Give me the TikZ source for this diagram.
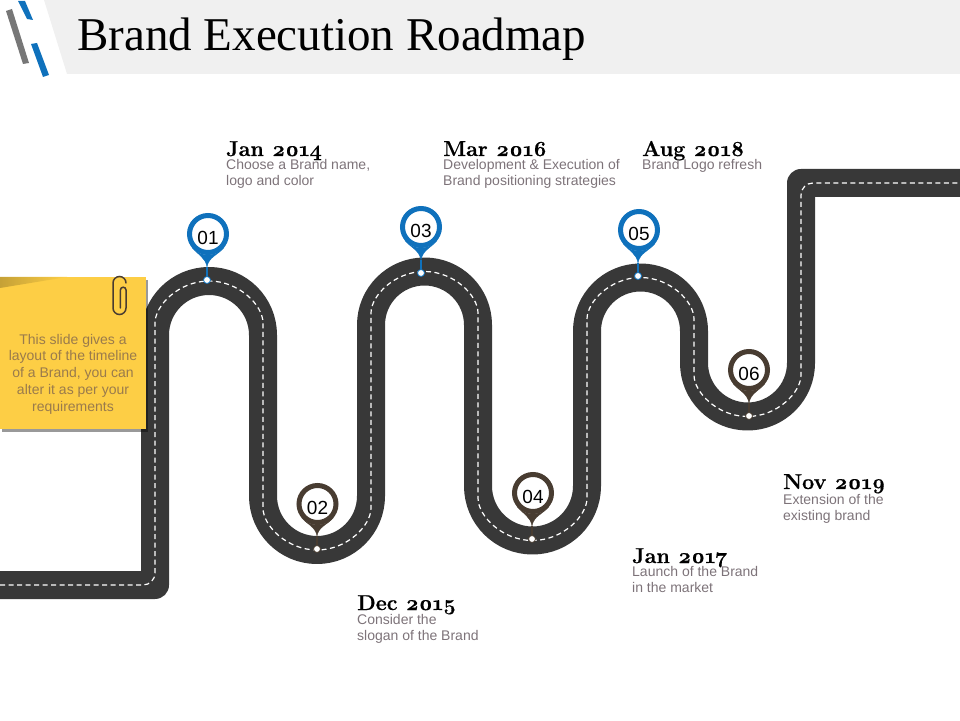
\documentclass[tikz,border=0pt]{standalone}
\usepackage{fontspec}
\setsansfont{Liberation Sans}
\newfontfamily\titlefont{Liberation Serif}
\newfontfamily\datefont{Latin Modern Roman}[Numbers=OldStyle,BoldFeatures={FakeBold=0.6}]
\usetikzlibrary{shadows}

\definecolor{roadgray}{HTML}{383838}
\definecolor{pinblue}{HTML}{0F71BC}
\definecolor{pinbrown}{HTML}{483C31}
\definecolor{notegold}{HTML}{FDCE45}
\definecolor{notetext}{HTML}{9A7B4C}
\definecolor{desctext}{HTML}{7D7379}
\definecolor{headgray}{HTML}{F0F0F0}
\definecolor{stripegray}{HTML}{777777}

\newcommand{\roadpath}{(0,135) -- (155,135) -- (155,385) arc (180:0:54) -- (263,224) arc (180:360:54) -- (371,395) arc (180:0:53.5) -- (478,234) arc (180:360:54.5) -- (587,389) arc (180:0:53.5) -- (694,357) arc (180:360:53.5) -- (801,537) -- (960,537)}

\tikzset{
  pin/.style={circle,draw=#1,line width=5pt,fill=white,minimum size=37pt,inner sep=0pt,text height=21pt,text depth=0pt,font=\sffamily\fontsize{19}{19}\selectfont},
  dot/.style={circle,draw=#1,line width=0.8pt,fill=white,minimum size=7pt,inner sep=0pt},
  datelabel/.style={anchor=base west,inner sep=0pt,font=\datefont\bfseries\fontsize{21.5}{22}\selectfont},
  desclabel/.style={anchor=north west,inner sep=0pt,align=left,text=desctext,font=\sffamily\fontsize{14}{16}\selectfont},
  stem/.style={#1,line width=2.5pt},
  drop/.style={fill=#1,draw=#1,line width=0.3pt},
}

\begin{document}
\begin{tikzpicture}[x=1pt,y=1pt]
\useasboundingbox (0,0) rectangle (960,720);
% header
\fill[headgray] (44,720) -- (960,720) -- (960,646) -- (67,646) -- cycle;
\fill[pinblue] (18,719) -- (25,719) -- (33,700) -- (27,701) -- cycle;
\fill[stripegray] (6,709) -- (12,711) -- (29,657) -- (23,656) -- cycle;
\fill[pinblue] (31,676) -- (37,677) -- (49,645) -- (43,643) -- cycle;
\node[anchor=base west,inner sep=0pt,font=\titlefont\fontsize{47}{47}\selectfont] (title) at (77,669) {Brand Execution Roadmap};
% road
\draw[roadgray,line width=28pt,line join=round] \roadpath;
\draw[white,line width=1.2pt,dash pattern=on 5pt off 3.5pt,rounded corners=12pt] \roadpath;
% sticky note
\fill[notegold,drop shadow={shadow xshift=2pt,shadow yshift=-3pt,fill=black,opacity=0.4}] (0,291) rectangle (146,443);
\shade[left color=notegold!78!black,right color=notegold] (0,443) -- (67,443) -- (0,432) -- cycle;
\draw[pinbrown,line width=1.5pt,line cap=round] (126,437) arc (0:180:6.5) -- (113,412) arc (180:360:6.5) -- (126,430) arc (0:180:2.8) -- (120.4,412);
\node[inner sep=0pt,align=center,text=notetext,font=\sffamily\fontsize{14}{16.8}\selectfont] (note) at (73,346) {This slide gives a\\layout of the timeline\\of a Brand, you can\\alter it as per your\\requirements};
% pins
\node[pin=pinblue] (p1) at (208,486) {01};
\node[dot=pinblue] (d1) at (207,440) {};
\coordinate (t1) at (207,453);
\fill[drop=pinblue] (p1.-140) to[out=-50,in=100] (t1) to[out=80,in=-130] (p1.-40) arc (-40:-140:21);
\draw[stem=pinblue] (t1) -- (d1);
\node[pin=pinbrown] (p2) at (317.5,216) {02};
\node[dot=pinbrown] (d2) at (317,171) {};
\coordinate (t2) at (317,184);
\fill[drop=pinbrown] (p2.-140) to[out=-50,in=100] (t2) to[out=80,in=-130] (p2.-40) arc (-40:-140:21);
\draw[stem=pinbrown] (t2) -- (d2);
\node[pin=pinblue] (p3) at (421,493) {03};
\node[dot=pinblue] (d3) at (421,447) {};
\coordinate (t3) at (421,460);
\fill[drop=pinblue] (p3.-140) to[out=-50,in=100] (t3) to[out=80,in=-130] (p3.-40) arc (-40:-140:21);
\draw[stem=pinblue] (t3) -- (d3);
\node[pin=pinbrown] (p4) at (533,227) {04};
\node[dot=pinbrown] (d4) at (532,181) {};
\coordinate (t4) at (532,194);
\fill[drop=pinbrown] (p4.-140) to[out=-50,in=100] (t4) to[out=80,in=-130] (p4.-40) arc (-40:-140:21);
\draw[stem=pinbrown] (t4) -- (d4);
\node[pin=pinblue] (p5) at (639,490) {05};
\node[dot=pinblue] (d5) at (638,444) {};
\coordinate (t5) at (638,457);
\fill[drop=pinblue] (p5.-140) to[out=-50,in=100] (t5) to[out=80,in=-130] (p5.-40) arc (-40:-140:21);
\draw[stem=pinblue] (t5) -- (d5);
\node[pin=pinbrown] (p6) at (749,350) {06};
\node[dot=pinbrown] (d6) at (749,304) {};
\coordinate (t6) at (749,317);
\fill[drop=pinbrown] (p6.-140) to[out=-50,in=100] (t6) to[out=80,in=-130] (p6.-40) arc (-40:-140:21);
\draw[stem=pinbrown] (t6) -- (d6);
% dates and texts
\node[datelabel] (date1) at (226,564) {Jan 2014};
\node[desclabel] (desc1) at (226,561) {Choose a Brand name,\\logo and color};
\node[datelabel] (date2) at (357,110) {Dec 2015};
\node[desclabel] (desc2) at (357,106) {Consider the\\slogan of the Brand};
\node[datelabel] (date3) at (443,564) {Mar 2016};
\node[desclabel] (desc3) at (443,561) {Development \& Execution of\\Brand positioning strategies};
\node[datelabel] (date4) at (632,157) {Jan 2017};
\node[desclabel] (desc4) at (632,154) {Launch of the Brand\\in the market};
\node[datelabel] (date5) at (642,564) {Aug 2018};
\node[desclabel] (desc5) at (642,561) {Brand Logo refresh};
\node[datelabel] (date6) at (783,231) {Nov 2019};
\node[desclabel] (desc6) at (783,226) {Extension of the\\existing brand};
\end{tikzpicture}
\end{document}
